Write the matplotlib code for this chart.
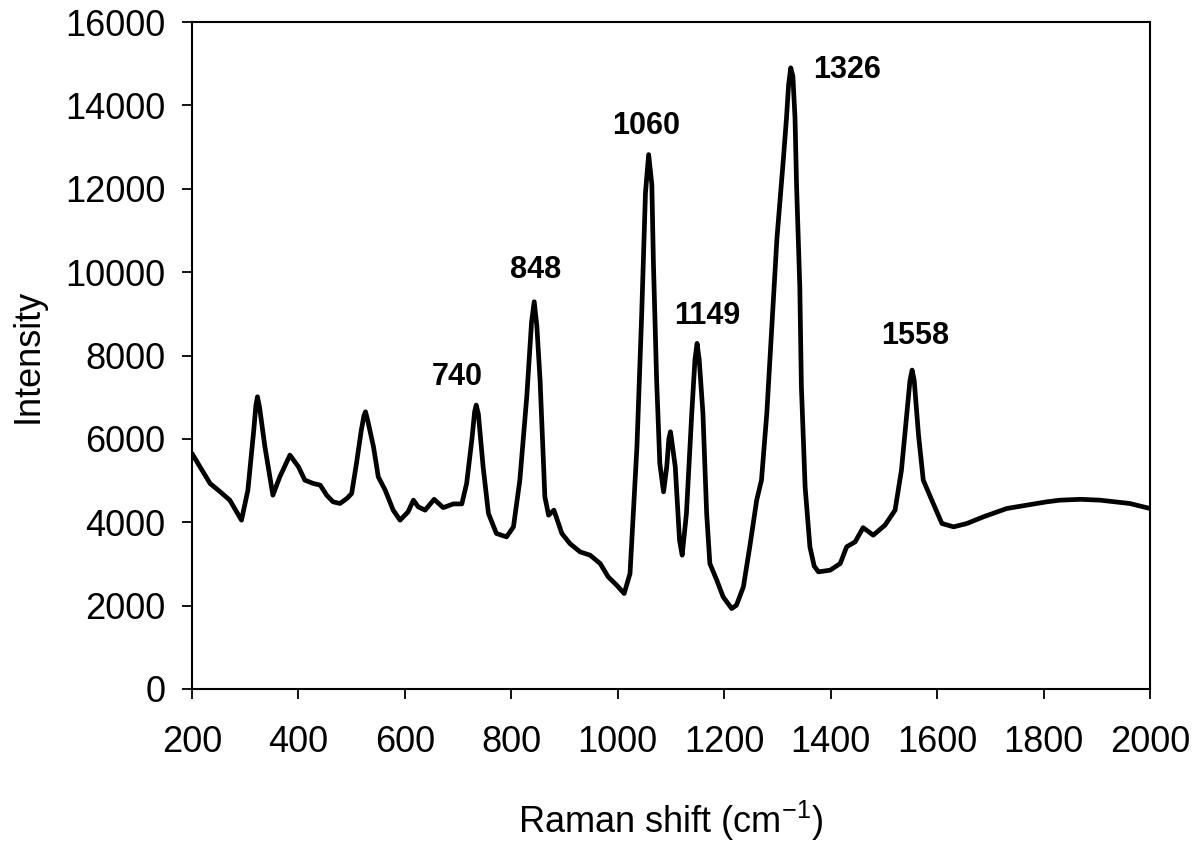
import matplotlib
matplotlib.use("Agg")
import matplotlib.pyplot as plt

plt.rcParams['font.family'] = ['Liberation Sans', 'DejaVu Sans']
plt.rcParams['mathtext.fontset'] = 'custom'
plt.rcParams['mathtext.rm'] = 'Liberation Sans'
plt.rcParams['mathtext.it'] = 'Liberation Sans'

raman_shift = [200, 215, 234, 253, 271, 293, 305, 316, 320, 323, 327, 337, 352, 365, 384, 400, 412,
               428, 441, 453, 465, 478, 491, 500, 509, 518, 523, 526, 530, 541, 550, 563, 578, 591,
               606, 616, 625, 638, 655, 672, 691, 707, 716, 726, 731, 734, 738, 747, 757, 772, 791,
               804, 816, 829, 838, 843, 848, 854, 863, 870, 880, 895, 910, 929, 948, 967, 982,
               998, 1012, 1023, 1036, 1045, 1052, 1058, 1064, 1067, 1073, 1079, 1086, 1092,
               1096, 1099, 1102, 1108, 1116, 1121, 1129, 1139, 1145, 1149, 1153, 1160, 1167, 1173,
               1186, 1198, 1214, 1223, 1236, 1248, 1261, 1270, 1280, 1289, 1299, 1311, 1317, 1321,
               1325, 1329, 1333, 1336, 1342, 1345, 1352, 1361, 1369, 1377, 1399, 1418, 1430, 1446,
               1461, 1480, 1502, 1521, 1533, 1543, 1549, 1553, 1557, 1565, 1574, 1590, 1609, 1631,
               1656, 1687, 1731, 1768, 1806, 1831, 1870, 1906, 1962, 2000]
intensity = [5650, 5330, 4930, 4730, 4530, 4050, 4770, 6200, 6800, 7010, 6750, 5810, 4650, 5090,
             5610, 5330, 5010, 4930, 4890, 4650, 4490, 4450, 4570, 4690, 5410, 6200, 6550, 6650,
             6450, 5810, 5090, 4770, 4290, 4050, 4250, 4530, 4370, 4290, 4550, 4350, 4440, 4440,
             4930, 6000, 6650, 6810, 6600, 5330, 4210, 3730, 3650, 3890, 5010, 7010, 8800,
             9290, 8700, 7410, 4610, 4170, 4290, 3730, 3490, 3290, 3210, 3010, 2690, 2490, 2290,
             2770, 5810, 9010, 11900, 12820, 12100, 10200, 7410, 5410, 4730, 5330, 6000,
             6170, 5900, 5330, 3570, 3210, 4210, 6610, 7900, 8290, 7900, 6610, 4210, 3010, 2610,
             2210, 1930, 2010, 2450, 3410, 4530, 5010, 6610, 8610, 10800, 12690, 13700, 14500,
             14900, 14700, 13700, 12050, 9650, 7250, 4850, 3410, 2950, 2810, 2850, 3010, 3410,
             3530, 3870, 3690, 3930, 4290, 5250, 6610, 7400, 7650, 7400, 6100, 5010, 4530, 3970,
             3890, 3970, 4130, 4330, 4410, 4490, 4530, 4550, 4530, 4450, 4330]

peak_labels = ['740', '848', '1060', '1149', '1326', '1558']
label_x = [698, 846, 1053, 1168, 1431, 1558]
label_y = [7480, 10050, 13500, 8950, 14850, 8470]

x_ticks = [200, 400, 600, 800, 1000, 1200, 1400, 1600, 1800, 2000]
y_ticks = [0, 2000, 4000, 6000, 8000, 10000, 12000, 14000, 16000]

fig = plt.figure(figsize=(11.92, 8.44), dpi=100)
ax = fig.add_axes([192/1192, 1 - 689/844, (1150-192)/1192, (689-22)/844])

ax.plot(raman_shift, intensity, color='black', lw=3.4, solid_joinstyle='round', solid_capstyle='round')

for lab, lx, ly in zip(peak_labels, label_x, label_y):
    ax.text(lx, ly, lab, fontsize=22, fontweight='bold', ha='center', va='center')

ax.set_xlim(200, 2000)
ax.set_ylim(0, 16000)
ax.set_xticks(x_ticks)
ax.set_yticks(y_ticks)
ax.tick_params(axis='both', direction='out', length=7, width=1.3, labelsize=26)
ax.tick_params(axis='x', pad=19)
ax.tick_params(axis='y', pad=12)
ax.tick_params(top=False, right=False)
for s in ax.spines.values():
    s.set_linewidth(1.5)

ax.set_xlabel('Raman shift (cm$^{-1}$)', fontsize=26, labelpad=28)
ax.set_ylabel('Intensity', fontsize=26, labelpad=14)

fig.savefig('out.png', dpi=100, facecolor='white')
